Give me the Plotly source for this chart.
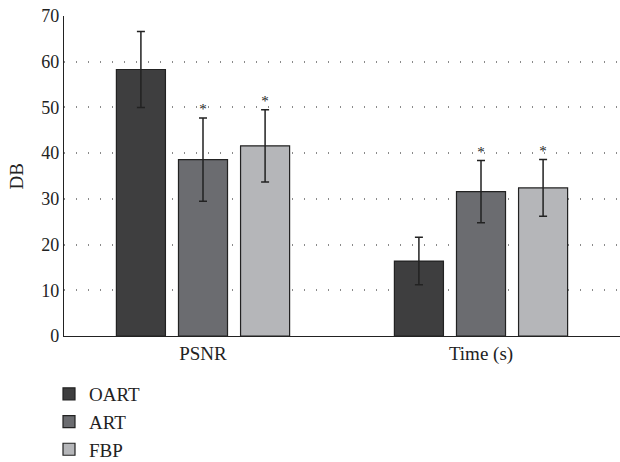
import plotly.graph_objects as go

categories = ["PSNR", "Time (s)"]
series_names = ["OART", "ART", "FBP"]
oart_vals = [58.3, 16.4]
oart_err = [8.3, 5.2]
art_vals = [38.6, 31.6]
art_err = [9.1, 6.8]
fbp_vals = [41.6, 32.4]
fbp_err = [7.9, 6.2]
oart_mark = ["", ""]
art_mark = ["*", "*"]
fbp_mark = ["*", "*"]

colors = ["#3e3e3f", "#6b6c70", "#b5b6b9"]
FONT = "Liberation Serif"

fig = go.Figure()
data = [(oart_vals, oart_err, oart_mark), (art_vals, art_err, art_mark), (fbp_vals, fbp_err, fbp_mark)]
for i, (name, (vals, err, mark)) in enumerate(zip(series_names, data)):
    fig.add_trace(go.Bar(
        x=categories, y=vals, name=name, offsetgroup=str(i), legendgroup=name,
        marker=dict(color=colors[i], line=dict(color="#222222", width=1.2)),
        error_y=dict(type="data", array=err, visible=True, color="#222222", thickness=1.5, width=4),
    ))
for i, (name, (vals, err, mark)) in enumerate(zip(series_names, data)):
    fig.add_trace(go.Scatter(
        x=categories, y=[v + e for v, e in zip(vals, err)], mode="text", text=mark,
        textposition="top center", offsetgroup=str(i), showlegend=False, hoverinfo="skip",
        textfont=dict(family=FONT, size=15, color="#222222"),
    ))

fig.update_layout(
    width=620, height=462,
    margin=dict(l=64, r=0, t=16, b=126, autoexpand=False),
    paper_bgcolor="white", plot_bgcolor="white",
    barmode="group", bargap=0.33, bargroupgap=0.21,
    scattermode="group", scattergap=0.33,
    font=dict(family=FONT, size=16, color="#222222"),
    showlegend=True,
    legend=dict(
        xref="container", yref="container", x=49 / 620, y=1 - 375 / 462,
        xanchor="left", yanchor="top", orientation="v",
        font=dict(family=FONT, size=19, color="#222222"),
        tracegroupgap=0, bgcolor="rgba(0,0,0,0)",
    ),
    xaxis=dict(
        showline=True, linecolor="#222222", linewidth=1.2,
        showgrid=False, ticks="", tickfont=dict(size=19),
    ),
    yaxis=dict(
        range=[0, 70], dtick=10, showline=True, linecolor="#222222", linewidth=1.2,
        showgrid=True, gridcolor="#8a8a8a", griddash="1px,11px", gridwidth=1.5,
        zeroline=False, ticks="", tickfont=dict(size=18),
    ),
    annotations=[dict(
        text="DB", xref="paper", yref="paper", x=-0.108, y=0.5, textangle=-90,
        showarrow=False, font=dict(family=FONT, size=19, color="#222222"),
    )],
)

fig.write_html("out.html", config={"displayModeBar": False},
               post_script="document.body.style.margin='0';")
